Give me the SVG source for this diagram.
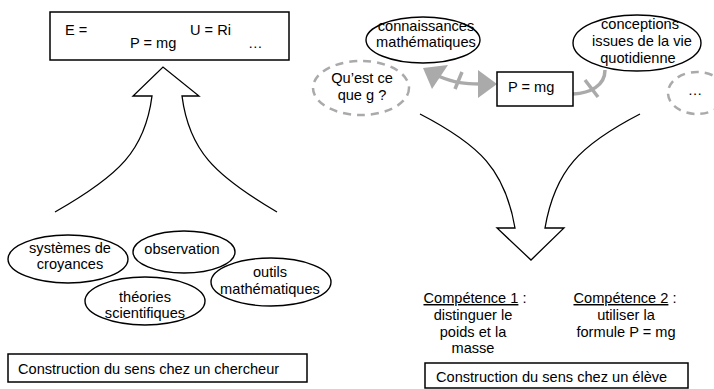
<svg xmlns="http://www.w3.org/2000/svg" width="714" height="389" viewBox="0 0 714 389">
<style>
text{font-family:"Liberation Sans",Arial,sans-serif;font-size:14.6px;fill:#000}
.c{text-anchor:middle}
.box{fill:#fff;stroke:#000;stroke-width:1.5}
.ell{fill:#fff;stroke:#000;stroke-width:1.4}
.dash{fill:none;stroke:#aaa;stroke-width:2.5;stroke-dasharray:8 6}
.big{fill:#fff;stroke:#000;stroke-width:1.3;stroke-linejoin:miter}
.gl{fill:none;stroke:#aaa;stroke-width:3.5}
.gh{fill:#aaa;stroke:none}
.u{text-decoration:underline}
</style>
<rect width="714" height="389" fill="#fff"/>
<g id="connectors">
<path class="big" d="M55,212 C120,175 145,150 152,96 L133,96 L163,67 L199,96 L182,96 C189,150 214,175 277,212"/>
<path class="big" d="M420,114 C480,145 505,170 515,228 L497,228 L531,260 L564,228 L545,228 C555,170 580,145 640,114"/>
<path class="gl" d="M438,76 C455,83 465,84 480,84"/>
<path class="gl" d="M462,72 L455,89"/>
<polygon class="gh" points="423,68 448,65 432,89"/>
<polygon class="gh" points="497,84 478,70 478,98"/>
<path class="gl" d="M573,94 C590,93 605,86 605,70"/>
<path class="gl" d="M585,80 L598,97"/>
</g>
<g id="formulas">
<rect class="box" x="50" y="12" width="239" height="48"/>
<text x="65" y="35">E =</text>
<text x="190" y="35">U = Ri</text>
<text x="130" y="48">P = mg</text>
<text x="248" y="48">…</text>
</g>
<g id="questg">
<ellipse class="dash" cx="361" cy="88" rx="48" ry="27"/>
<text class="c" x="362" y="83">Qu’est ce</text>
<text class="c" x="362" y="100">que g ?</text>
</g>
<g id="systemes">
<ellipse class="ell" cx="68" cy="259" rx="60" ry="24"/>
<text class="c" x="70" y="253">systèmes de</text>
<text class="c" x="70" y="269">croyances</text>
</g>
<g id="observation">
<ellipse class="ell" cx="184" cy="252" rx="51" ry="21"/>
<text class="c" x="182" y="254">observation</text>
</g>
<g id="theories">
<ellipse class="ell" cx="145" cy="301" rx="60" ry="24"/>
<text class="c" x="145" y="302">théories</text>
<text class="c" x="145" y="318">scientifiques</text>
</g>
<g id="outils">
<ellipse class="ell" cx="271" cy="282" rx="60" ry="24"/>
<text class="c" x="270" y="277">outils</text>
<text class="c" x="270" y="294">mathématiques</text>
</g>
<g id="chercheur">
<rect class="box" x="8" y="354" width="299" height="28"/>
<text x="18" y="374">Construction du sens chez un chercheur</text>
</g>
<g id="connaissances">
<ellipse class="ell" cx="423" cy="40" rx="57" ry="23"/>
<text class="c" x="426" y="31">connaissances</text>
<text class="c" x="426" y="47">mathématiques</text>
</g>
<g id="conceptions">
<ellipse class="ell" cx="637" cy="43" rx="64" ry="28"/>
<text class="c" x="640" y="29">conceptions</text>
<text class="c" x="642" y="46">issues de la vie</text>
<text class="c" x="638" y="63">quotidienne</text>
</g>
<g id="pmg">
<rect class="box" x="497" y="72" width="76" height="34"/>
<text x="508" y="92">P = mg</text>
</g>
<g id="etc">
<ellipse class="dash" cx="697" cy="93" rx="29" ry="21"/>
<text class="c" x="695" y="95">…</text>
</g>
<g id="competence1">
<text class="c" x="475" y="303"><tspan class="u">Compétence 1</tspan> :</text>
<text class="c" x="473" y="320">distinguer le</text>
<text class="c" x="473" y="337">poids et la</text>
<text class="c" x="473" y="353">masse</text>
</g>
<g id="competence2">
<text class="c" x="625" y="303"><tspan class="u">Compétence 2</tspan> :</text>
<text class="c" x="626" y="320">utiliser la</text>
<text class="c" x="626" y="337">formule P = mg</text>
</g>
<g id="eleve">
<rect class="box" x="425" y="363" width="263" height="25"/>
<text x="436" y="382">Construction du sens chez un élève</text>
</g>
</svg>
